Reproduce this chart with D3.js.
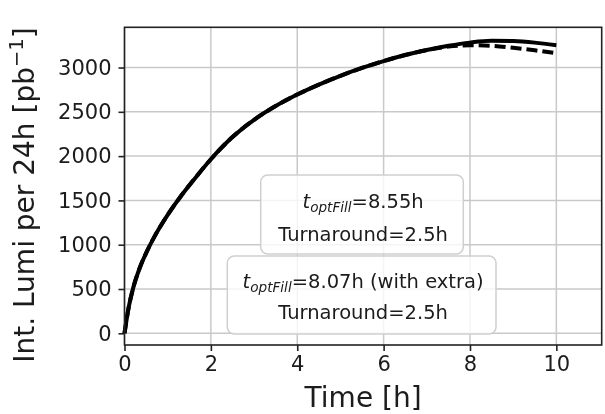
<!DOCTYPE html>
<html>
<head>
<meta charset="utf-8">
<script src="https://cdn.jsdelivr.net/npm/d3@7"></script>
<style>
  html, body { margin: 0; padding: 0; background: #fff; }
  svg { display: block; font-family: "DejaVu Sans", sans-serif; }
</style>
</head>
<body>
<svg id="chart" width="605" height="414"></svg>
<script>
// Fill length (h) and integrated luminosity per 24h (pb^-1)
const fillTime    = [0, 0.1, 0.2, 0.35, 0.5, 0.7, 1.0, 1.3, 1.6, 2.0, 2.5, 3.0, 3.5, 4.0, 4.5, 5.0, 5.5, 6.0, 6.5, 7.0, 7.5, 8.0, 8.5, 9.0, 9.5, 10.0];
const lumiNominal = [0, 300, 510, 735, 905, 1097, 1337, 1544, 1730, 1965, 2215, 2410, 2565, 2695, 2807, 2907, 2995, 3073, 3141, 3198, 3245, 3281, 3301, 3298, 3281, 3251];
const lumiExtra   = [0, 300, 510, 735, 905, 1097, 1337, 1544, 1730, 1965, 2215, 2410, 2565, 2695, 2807, 2907, 2995, 3073, 3141, 3196, 3236, 3251, 3245, 3222, 3194, 3162];

const xTicks = [0, 2, 4, 6, 8, 10];
const yTicks = [0, 500, 1000, 1500, 2000, 2500, 3000];

const annotations = [
  { tOpt: "8.55h", note: "", turnaround: "Turnaround=2.5h" },
  { tOpt: "8.07h", note: " (with extra)", turnaround: "Turnaround=2.5h" }
];

const svg = d3.select("#chart");
const pLeft = 124.5, pRight = 601.7, pTop = 27.3, pBottom = 345;

// soft rendering of the whole figure
svg.append("defs").append("filter").attr("id", "soft")
  .append("feGaussianBlur").attr("stdDeviation", 0.45);
const root = svg.append("g").attr("filter", "url(#soft)");
root.append("rect").attr("width", 605).attr("height", 414).attr("fill", "#fff");

const x = d3.scaleLinear().domain([0, 11.05]).range([pLeft, pRight]);
const y = d3.scaleLinear().domain([-132, 3454]).range([pBottom, pTop]);

// grid
const grid = root.append("g").attr("stroke", "#c9c9c9").attr("stroke-width", 1.5);
grid.selectAll(".gx").data(xTicks).join("line")
  .attr("x1", d => x(d)).attr("x2", d => x(d)).attr("y1", pTop).attr("y2", pBottom);
grid.selectAll(".gy").data(yTicks).join("line")
  .attr("x1", pLeft).attr("x2", pRight).attr("y1", d => y(d)).attr("y2", d => y(d));

// curves
const line = d3.line().x(d => x(d[0])).y(d => y(d[1])).curve(d3.curveMonotoneX);
const plot = root.append("g");
plot.append("path").datum(fillTime.map((t, i) => [t, lumiNominal[i]]))
  .attr("d", line).attr("fill", "none").attr("stroke", "#000").attr("stroke-width", 4);
plot.append("path").datum(fillTime.map((t, i) => [t, lumiExtra[i]]))
  .attr("d", line).attr("fill", "none").attr("stroke", "#000").attr("stroke-width", 4)
  .attr("stroke-dasharray", "11,5");

// annotation boxes
const boxes = [
  { x0: 260.7, x1: 463.3, y0: 175, y1: 254, b1: 208, b2: 240.7 },
  { x0: 227.3, x1: 496, y0: 256, y1: 334, b1: 288.3, b2: 319 }
];
const cx = (pLeft + pRight) / 2;
annotations.forEach((a, i) => {
  const b = boxes[i];
  root.append("rect")
    .attr("x", b.x0).attr("y", b.y0).attr("width", b.x1 - b.x0).attr("height", b.y1 - b.y0)
    .attr("rx", 7).attr("ry", 7)
    .attr("fill", "#fff").attr("fill-opacity", 0.8)
    .attr("stroke", "#cfcfcf").attr("stroke-width", 1.5);
  const t1 = root.append("text").attr("x", cx).attr("y", b.b1)
    .attr("text-anchor", "middle").attr("font-size", 19.5).attr("fill", "#1a1a1a");
  t1.append("tspan").attr("font-style", "italic").text("t");
  t1.append("tspan").attr("font-style", "italic").attr("font-size", 13.6).attr("dy", 3.5).text("optFill");
  t1.append("tspan").attr("dy", -3.5).text("=" + a.tOpt + a.note);
  root.append("text").attr("x", cx).attr("y", b.b2)
    .attr("text-anchor", "middle").attr("font-size", 19.5).attr("fill", "#1a1a1a")
    .text(a.turnaround);
});

// spines
root.append("rect").attr("x", pLeft).attr("y", pTop).attr("width", pRight - pLeft).attr("height", pBottom - pTop)
  .attr("fill", "none").attr("stroke", "#222").attr("stroke-width", 1.6);

// axes
const xAxis = root.append("g").attr("transform", `translate(0,${pBottom})`)
  .call(d3.axisBottom(x).tickValues(xTicks).tickSize(6).tickPadding(5).tickFormat(d3.format("d")));
const yAxis = root.append("g").attr("transform", `translate(${pLeft},0)`)
  .call(d3.axisLeft(y).tickValues(yTicks).tickSize(6).tickPadding(7).tickFormat(d3.format("d")));
[xAxis, yAxis].forEach(g => {
  g.select(".domain").remove();
  g.selectAll(".tick line").attr("stroke", "#222").attr("stroke-width", 1.6);
  g.selectAll(".tick text").attr("font-family", "DejaVu Sans").attr("font-size", 21).attr("fill", "#1a1a1a");
});

// axis titles
root.append("text").attr("x", cx).attr("y", 407).attr("text-anchor", "middle")
  .attr("font-size", 28).attr("fill", "#1a1a1a").text("Time [h]");
const yl = root.append("text").attr("transform", "translate(33.5,195) rotate(-90)")
  .attr("text-anchor", "middle").attr("font-size", 28).attr("fill", "#1a1a1a");
yl.append("tspan").text("Int. Lumi per 24h [pb");
yl.append("tspan").attr("font-size", 19.6).attr("dy", -11).text("\u22121");
yl.append("tspan").attr("dy", 11).text("]");
</script>
</body>
</html>
